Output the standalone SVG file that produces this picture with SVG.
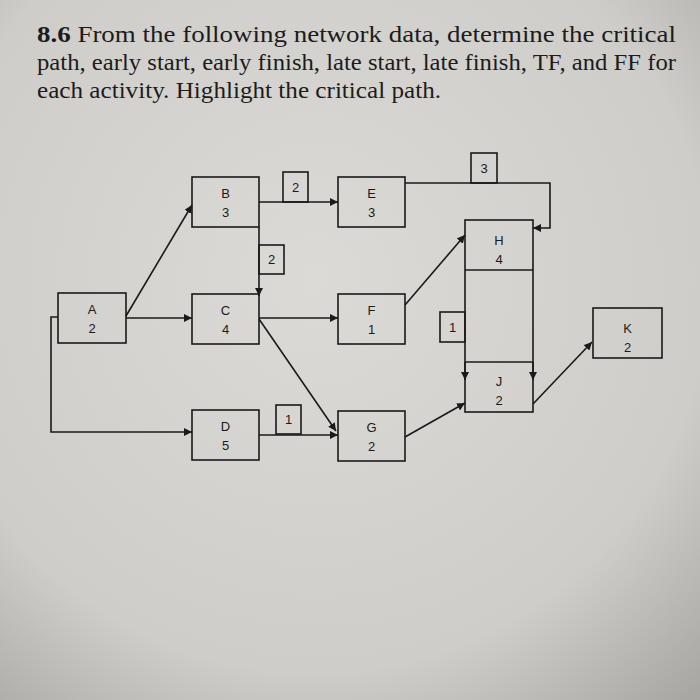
<svg xmlns="http://www.w3.org/2000/svg" width="700" height="700" viewBox="0 0 700 700">
<defs>
<radialGradient id="bg" cx="0.45" cy="0.4" r="0.8"><stop offset="0" stop-color="#dcdad6"/><stop offset="0.7" stop-color="#cfcdc9"/><stop offset="1" stop-color="#a9a7a3"/></radialGradient>
<marker id="ar" viewBox="0 0 10 10" refX="10" refY="5" markerWidth="8" markerHeight="8" orient="auto" markerUnits="userSpaceOnUse"><path d="M0,0 L10,5 L0,10 z" fill="#1a1a1a"/></marker>
</defs>
<style>
.n rect{fill:none;stroke:#1a1a1a;stroke-width:1.6}
.t{font-family:"Liberation Sans",Arial,sans-serif;font-size:13px;fill:#1a1a1a;text-anchor:middle}
.c path,.c line{fill:none;stroke:#1a1a1a;stroke-width:1.6}
.h{font-family:"Liberation Serif","Times New Roman",serif;font-size:23px;fill:#1c1c1c}
</style>
<rect width="700" height="700" fill="url(#bg)"/>
<text class="h" x="37" y="42" textLength="639" lengthAdjust="spacingAndGlyphs"><tspan font-weight="bold">8.6</tspan> From the following network data, determine the critical</text>
<text class="h" x="37" y="70" textLength="639" lengthAdjust="spacingAndGlyphs">path, early start, early finish, late start, late finish, TF, and FF for</text>
<text class="h" x="37" y="98" textLength="404" lengthAdjust="spacingAndGlyphs">each activity. Highlight the critical path.</text>
<g class="c">
<line x1="126" y1="316" x2="192" y2="205" marker-end="url(#ar)"/>
<line x1="126" y1="318" x2="192" y2="318" marker-end="url(#ar)"/>
<path d="M58,317 H51 V432 H192" marker-end="url(#ar)"/>
<line x1="259" y1="202" x2="338" y2="202" marker-end="url(#ar)"/>
<line x1="259" y1="227" x2="259" y2="296" marker-end="url(#ar)"/>
<line x1="259" y1="318" x2="338" y2="318" marker-end="url(#ar)"/>
<line x1="259" y1="319" x2="336" y2="431" marker-end="url(#ar)"/>
<line x1="259" y1="435" x2="338" y2="435" marker-end="url(#ar)"/>
<path d="M405,183 H550 V228 H533" marker-end="url(#ar)"/>
<line x1="405" y1="305" x2="465" y2="235" marker-end="url(#ar)"/>
<line x1="405" y1="437" x2="465" y2="403" marker-end="url(#ar)"/>
<line x1="465" y1="362" x2="465" y2="380" marker-end="url(#ar)"/>
<line x1="533" y1="362" x2="533" y2="380" marker-end="url(#ar)"/>
<line x1="533" y1="404" x2="592" y2="342" marker-end="url(#ar)"/>
</g>
<g id="lags" class="n">
<rect x="283" y="172" width="25" height="30"/><text class="t" x="295.5" y="192">2</text>
<rect x="259" y="245" width="25" height="29"/><text class="t" x="271.5" y="264">2</text>
<rect x="276" y="405" width="25" height="29"/><text class="t" x="288.5" y="424">1</text>
<rect x="471" y="153" width="26" height="30"/><text class="t" x="484" y="173">3</text>
<rect x="440" y="312" width="25" height="30"/><text class="t" x="452.5" y="332">1</text>
</g>
<g id="A" class="n"><rect x="58" y="293" width="68" height="50"/><text class="t" x="92" y="314">A</text><text class="t" x="92" y="333">2</text></g>
<g id="B" class="n"><rect x="192" y="177" width="67" height="50"/><text class="t" x="225.5" y="198">B</text><text class="t" x="225.5" y="217">3</text></g>
<g id="C" class="n"><rect x="192" y="294" width="67" height="50"/><text class="t" x="225.5" y="315">C</text><text class="t" x="225.5" y="334">4</text></g>
<g id="D" class="n"><rect x="192" y="410" width="67" height="50"/><text class="t" x="225.5" y="431">D</text><text class="t" x="225.5" y="450">5</text></g>
<g id="E" class="n"><rect x="338" y="177" width="67" height="50"/><text class="t" x="371.5" y="198">E</text><text class="t" x="371.5" y="217">3</text></g>
<g id="F" class="n"><rect x="338" y="294" width="67" height="50"/><text class="t" x="371.5" y="315">F</text><text class="t" x="371.5" y="334">1</text></g>
<g id="G" class="n"><rect x="338" y="411" width="67" height="50"/><text class="t" x="371.5" y="432">G</text><text class="t" x="371.5" y="451">2</text></g>
<g id="HJ" class="n"><rect x="465" y="220" width="68" height="192"/><line x1="465" y1="270" x2="533" y2="270" stroke="#1a1a1a" stroke-width="1.6"/><line x1="465" y1="362" x2="533" y2="362" stroke="#1a1a1a" stroke-width="1.6"/></g>
<g id="H"><text class="t" x="499" y="245">H</text><text class="t" x="499" y="264">4</text></g>
<g id="J"><text class="t" x="499" y="386">J</text><text class="t" x="499" y="405">2</text></g>
<g id="K" class="n"><rect x="593" y="308" width="69" height="50"/><text class="t" x="627.5" y="333">K</text><text class="t" x="627.5" y="352">2</text></g>
</svg>
